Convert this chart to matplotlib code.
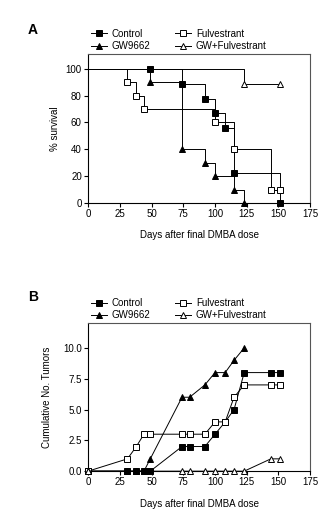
import matplotlib
matplotlib.use("Agg")
import matplotlib.pyplot as plt
from matplotlib.lines import Line2D

plt.rcParams['font.family'] = ['Liberation Sans', 'DejaVu Sans']
plt.rcParams['font.size'] = 7

# Panel A: survival (Kaplan-Meier steps)
ctl_t = [0, 49, 74, 92, 100, 108, 115, 151]
ctl_s = [100, 100, 88.9, 77.8, 66.7, 55.6, 22.2, 0]
ful_t = [0, 31, 38, 44, 100, 115, 144, 151]
ful_s = [100, 90, 80, 70, 60, 40, 10, 10]
gw_t = [0, 49, 74, 92, 100, 115, 123]
gw_s = [100, 90, 40, 30, 20, 10, 0]
gwf_t = [0, 123, 151]
gwf_s = [100, 88.9, 88.9]

# Panel B: cumulative tumours
ctl_bx = [0, 31, 38, 44, 49, 74, 80, 92, 100, 108, 115, 123, 144, 151]
ctl_by = [0, 0, 0, 0, 0, 2, 2, 2, 3, 4, 5, 8, 8, 8]
ful_bx = [0, 31, 38, 44, 49, 74, 80, 92, 100, 108, 115, 123, 144, 151]
ful_by = [0, 1, 2, 3, 3, 3, 3, 3, 4, 4, 6, 7, 7, 7]
gw_bx = [0, 31, 38, 44, 49, 74, 80, 92, 100, 108, 115, 123]
gw_by = [0, 0, 0, 0, 1, 6, 6, 7, 8, 8, 9, 10]
gwf_bx = [0, 74, 80, 92, 100, 108, 115, 123, 144, 151]
gwf_by = [0, 0, 0, 0, 0, 0, 0, 0, 1, 1]

names = ['Control', 'Fulvestrant', 'GW9662', 'GW+Fulvestrant']
styles = [dict(marker='s', mfc='black', ms=4.0),
          dict(marker='s', mfc='white', ms=4.3),
          dict(marker='^', mfc='black', ms=3.8),
          dict(marker='^', mfc='white', ms=4.0)]

fig = plt.figure(figsize=(3.3, 5.3), dpi=100)
axA = fig.add_axes([0.267, 0.617, 0.673, 0.281])
axB = fig.add_axes([0.267, 0.111, 0.673, 0.279])

surv = [(ctl_t, ctl_s), (ful_t, ful_s), (gw_t, gw_s), (gwf_t, gwf_s)]
for (t, s), st in zip(surv, styles):
    axA.plot(t, s, color='black', lw=0.7, drawstyle='steps-post')
    axA.plot(t[1:], s[1:], ls='none', color='black', mec='black',
             mew=0.7, clip_on=False, zorder=3, **st)

cum = [(ctl_bx, ctl_by), (ful_bx, ful_by), (gw_bx, gw_by), (gwf_bx, gwf_by)]
for (x, y), st in zip(cum, styles):
    axB.plot(x, y, color='black', lw=0.7, mec='black', mew=0.7,
             clip_on=False, zorder=3, **st)

handles = [Line2D([], [], color='black', lw=0.7, mec='black', mew=0.7, **st)
           for st in styles]

for ax in [axA, axB]:
    ax.set_xlim(0, 175)
    ax.set_xticks(range(0, 176, 25))
    ax.set_xlabel('Days after final DMBA dose', fontsize=7, labelpad=8)
    for sp in ax.spines.values():
        sp.set_linewidth(0.8)
    for sp in ['top', 'right']:
        ax.spines[sp].set_color('#555555')
    ax.tick_params(direction='out', length=3, width=0.8, labelsize=7, pad=1.5)
    order = [0, 2, 1, 3]
    ax.legend([handles[i] for i in order], [names[i] for i in order],
              ncol=2, frameon=False, loc='lower left',
              bbox_to_anchor=(0.0, 1.0), fontsize=7, handlelength=1.6,
              handletextpad=0.5, columnspacing=2.6, labelspacing=0.25,
              borderaxespad=0.0, borderpad=0.3)

axA.set_ylim(0, 111)
axA.set_yticks(range(0, 101, 20))
axA.set_ylabel('% survival', fontsize=7, labelpad=4)
axB.set_ylim(0, 12)
axB.set_yticks([0, 2.5, 5, 7.5, 10])
axB.set_yticklabels(['0.0', '2.5', '5.0', '7.5', '10.0'])
axB.set_ylabel('Cumulative No. Tumors', fontsize=7, labelpad=8)

fig.text(28 / 330, 1 - 30 / 530, 'A', fontsize=10, fontweight='bold', va='center')
fig.text(28 / 330, 1 - 297 / 530, 'B', fontsize=10, fontweight='bold', va='center')

fig.savefig('out.png', dpi=100)
